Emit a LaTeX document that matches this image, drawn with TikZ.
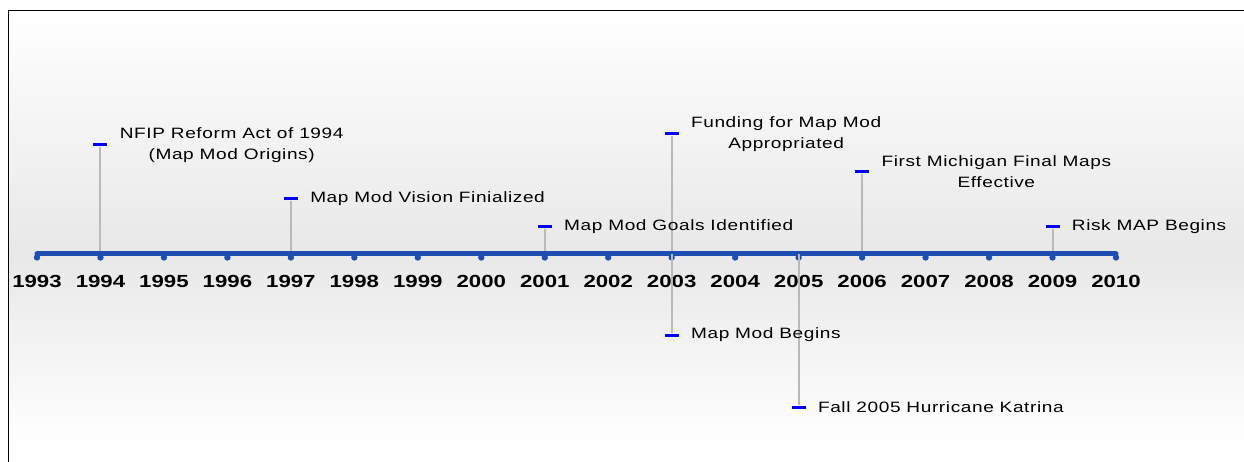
\documentclass[tikz,border=0pt]{standalone}
\usepackage{fontspec}
\setmainfont{Liberation Sans}[FakeStretch=1.27]
\newfontfamily\eventfont{Liberation Sans}[FakeStretch=1.27,LetterSpace=4]
\usetikzlibrary{positioning}
\definecolor{axisblue}{RGB}{31,78,178}
\definecolor{markblue}{RGB}{0,0,238}
\definecolor{stemgray}{RGB}{185,185,185}

\begin{document}
\begin{tikzpicture}[x=1pt,y=-1pt,
  marker/.style={fill=markblue, inner sep=0pt,
    minimum width=14pt, minimum height=3pt},
  event/.style={font=\eventfont\fontsize{15}{21}\selectfont,
    inner sep=0pt, align=center},
  year/.style={font=\bfseries\fontsize{17.5}{17.5}\selectfont, inner sep=0pt},
  stem/.style={draw=stemgray, line width=2pt},
  axis/.style={draw=axisblue, line width=5pt, line cap=round}
]
  \useasboundingbox (0,0) rectangle (1244,462);
  % background and frame
  \shade[top color=white, bottom color=black!9] (8.5,10.5) rectangle (1244,254);
  \shade[top color=black!9, bottom color=white] (8.5,254) rectangle (1244,445);
  \fill[white] (8.5,445) rectangle (1244,462);
  \draw[line width=1.5pt] (1244,10.5) -- (8.5,10.5) -- (8.5,462);

  % years
  \foreach \yr [count=\i from 0] in {1993,...,2010} {
    \coordinate (t\yr) at (37+63.47*\i,254);
    \node[year] (y\yr) at (37+63.47*\i,281) {\yr};
  }

  % markers
  \node[marker] (m1994) at (t1994 |- 0,145) {};
  \node[marker] (m1997) at (t1997 |- 0,199) {};
  \node[marker] (m2001) at (t2001 |- 0,227) {};
  \node[marker] (m2003a) at (t2003 |- 0,134) {};
  \node[marker] (m2003b) at (t2003 |- 0,335) {};
  \node[marker] (m2005) at (t2005 |- 0,407) {};
  \node[marker] (m2006) at (t2006 |- 0,172) {};
  \node[marker] (m2009) at (t2009 |- 0,227) {};

  \draw[stem] (m1994) -- (t1994);
  \draw[stem] (m1997) -- (t1997);
  \draw[stem] (m2001) -- (t2001);
  \draw[stem] (m2003a) -- (t2003);
  \draw[stem] (m2006) -- (t2006);
  \draw[stem] (m2009) -- (t2009);

  \draw[axis] (t1993) -- (t2010);
  \foreach \yr in {1993,...,2010}
    \fill[axisblue] (t\yr) ++(0,3.5) circle (3.2pt);

  \draw[stem] (t2003) -- (m2003b);
  \draw[stem] (t2005) -- (m2005);

  % labels
  \node[event, right=12pt of m1994] (e1994)
    {NFIP Reform Act of 1994\\(Map Mod Origins)};
  \node[event, right=12pt of m1997] (e1997) {Map Mod Vision Finialized};
  \node[event, right=12pt of m2001] (e2001) {Map Mod Goals Identified};
  \node[event, right=12pt of m2003a] (e2003a)
    {Funding for Map Mod\\Appropriated};
  \node[event, right=12pt of m2003b] (e2003b) {Map Mod Begins};
  \node[event, right=12pt of m2005] (e2005) {Fall 2005 Hurricane Katrina};
  \node[event, right=12pt of m2006] (e2006)
    {First Michigan Final Maps\\Effective};
  \node[event, right=12pt of m2009] (e2009) {Risk MAP Begins};
\end{tikzpicture}
\end{document}
